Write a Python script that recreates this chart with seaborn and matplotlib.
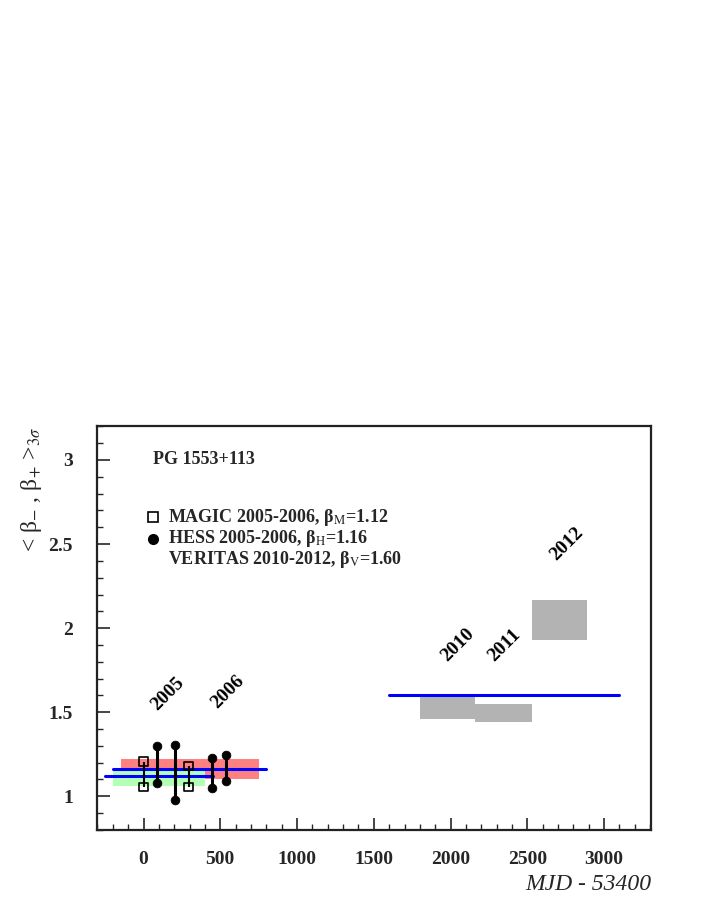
import numpy as np
import pandas as pd
import seaborn as sns
import matplotlib.pyplot as plt
from matplotlib.ticker import MultipleLocator

# ---------------- data ----------------
hess_mjd = [90, 205, 445, 535]
hess_lo = [1.08, 0.975, 1.05, 1.09]
hess_hi = [1.30, 1.305, 1.225, 1.245]

magic_mjd = [0, 295]
magic_lo = [1.055, 1.055]
magic_hi = [1.205, 1.18]

veritas_year = ["2010", "2011", "2012"]
veritas_x0 = [1800, 2160, 2530]
veritas_x1 = [2160, 2530, 2890]
veritas_lo = [1.46, 1.44, 1.93]
veritas_hi = [1.60, 1.55, 2.17]

# mean bands / lines
magic_band_x = [-200, 400]
magic_band_y = [1.06, 1.17]
hess_band_x = [-150, 750]
hess_band_y = [1.10, 1.22]
magic_mean, magic_mean_x = 1.12, [-250, 450]
hess_mean, hess_mean_x = 1.16, [-200, 800]
veritas_mean, veritas_mean_x = 1.60, [1600, 3100]

year_labels = ["2005", "2006", "2010", "2011", "2012"]
year_x = [155, 550, 2050, 2350, 2755]
year_y = [1.61, 1.62, 1.90, 1.90, 2.50]

# ---------------- style ----------------
sns.set_style("ticks")
plt.rcParams['font.family'] = ['Liberation Serif', 'DejaVu Serif']
plt.rcParams['mathtext.fontset'] = 'stix'

fig = plt.figure(figsize=(7.06, 9.13), dpi=100)
ax = fig.add_axes([0.137, 0.091, 0.785, 0.442])

# bands
ax.fill_between(hess_band_x, hess_band_y[0], hess_band_y[1], color="#ff8080", lw=0, zorder=1)
ax.fill_between(magic_band_x, magic_band_y[0], magic_band_y[1], color="#b3ffb3", lw=0, zorder=2)
for x0, x1, lo, hi in zip(veritas_x0, veritas_x1, veritas_lo, veritas_hi):
    ax.fill_between([x0, x1], lo, hi, color="#b3b3b3", lw=0, zorder=1)

# mean lines
ax.plot(hess_mean_x, [hess_mean] * 2, color="#0000ff", lw=2.2, zorder=3)
ax.plot(magic_mean_x, [magic_mean] * 2, color="#0000ff", lw=2.2, zorder=3)
ax.plot(veritas_mean_x, [veritas_mean] * 2, color="#0000ff", lw=2.2, zorder=3)

# ranges
ax.vlines(hess_mjd, hess_lo, hess_hi, color="black", lw=2.2, zorder=4)
ax.vlines(magic_mjd, magic_lo, magic_hi, color="black", lw=1.5, zorder=4)

hess_df = pd.DataFrame({"mjd": hess_mjd * 2, "beta": hess_lo + hess_hi})
magic_df = pd.DataFrame({"mjd": magic_mjd * 2, "beta": magic_lo + magic_hi})
sns.scatterplot(data=hess_df, x="mjd", y="beta", ax=ax, marker="o", s=40,
                color="black", edgecolor="black", zorder=5, legend=False)
sns.scatterplot(data=magic_df, x="mjd", y="beta", ax=ax, marker="s", s=40,
                facecolor="none", edgecolor="black", linewidth=1.2, zorder=5, legend=False)

# year labels
for lab, xx, yy in zip(year_labels, year_x, year_y):
    ax.text(xx, yy, lab, rotation=45, ha="center", va="center",
            fontsize=14, fontweight="bold", color="black")

# legend-like text
ax.text(0.101, 0.918, "PG 1553+113", transform=ax.transAxes, fontsize=13,
        fontweight="bold", va="center", ha="left")
ax.plot([0.101], [0.775], marker="s", ms=7, mfc="none", mec="black", mew=1.2,
        transform=ax.transAxes, clip_on=False)
ax.plot([0.101], [0.721], marker="o", ms=7, color="black",
        transform=ax.transAxes, clip_on=False)
ax.text(0.128, 0.775, r"MAGIC 2005-2006, β$_{\rm M}$=1.12", transform=ax.transAxes,
        fontsize=13, fontweight="bold", va="center")
ax.text(0.128, 0.721, r"HESS 2005-2006, β$_{\rm H}$=1.16", transform=ax.transAxes,
        fontsize=13, fontweight="bold", va="center")
ax.text(0.128, 0.670, r"VERITAS 2010-2012, β$_{\rm V}$=1.60", transform=ax.transAxes,
        fontsize=13, fontweight="bold", va="center")

# axes
ax.set_xlim(-305, 3305)
ax.set_ylim(0.8, 3.2)
ax.xaxis.set_major_locator(MultipleLocator(500))
ax.xaxis.set_minor_locator(MultipleLocator(100))
ax.yaxis.set_major_locator(MultipleLocator(0.5))
ax.yaxis.set_minor_locator(MultipleLocator(0.1))
ax.set_yticks([1, 1.5, 2, 2.5, 3])
ax.set_yticklabels(["1", "1.5", "2", "2.5", "3"])
ax.tick_params(which="both", bottom=True, left=True, top=False, right=False)
ax.tick_params(which="major", direction="in", length=9, width=1.2, labelsize=14, pad=15)
ax.tick_params(which="minor", direction="in", length=4.5, width=1.0)
ax.tick_params(axis="y", which="major", pad=17)
for lab in ax.get_xticklabels() + ax.get_yticklabels():
    lab.set_fontweight("bold")
for sp in ax.spines.values():
    sp.set_visible(True)
    sp.set_linewidth(1.6)
    sp.set_color("#222222")
ax.set_xlabel("")
ax.set_ylabel("")

ax.text(1.0, -0.136, "MJD - 53400", transform=ax.transAxes, ha="right", va="center",
        fontsize=17, fontstyle="italic")
ax.text(-0.117, 1.0, r"< β$_{-}$ , β$_{+}$ >$_{3\sigma}$", transform=ax.transAxes,
        ha="center", va="top", rotation=90, fontsize=17)

fig.savefig("out.png", dpi=100)
